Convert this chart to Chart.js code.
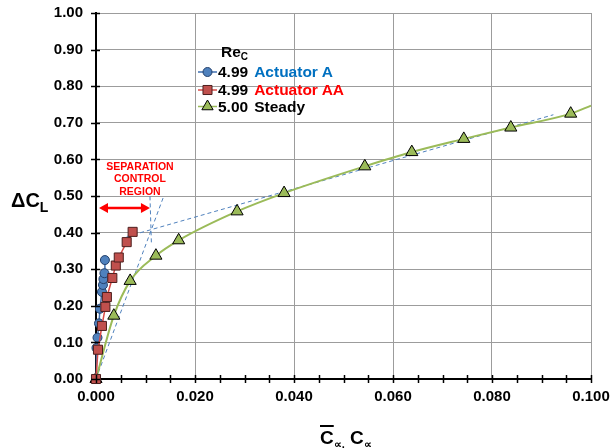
<!DOCTYPE html>
<html>
<head>
<meta charset="utf-8">
<script src="https://cdn.jsdelivr.net/npm/chart.js@4.4.1/dist/chart.umd.min.js"></script>
<style>
    html, body { margin: 0; padding: 0; background: #fff; }
    #wrap { position: relative; width: 612px; height: 448px; font-family: "Liberation Sans", Arial, sans-serif; font-weight: bold; }
    #chart { position: absolute; left: 0; top: 0; }
    .lbl { position: absolute; white-space: nowrap; pointer-events: none; }
    .sub { position: relative; }
</style>
</head>
<body>
<div id="wrap">
    <canvas id="chart" width="612" height="448"></canvas>

    <!-- legend -->
    <div class="lbl" style="left:221px; top:44px; font-size:15.5px; line-height:15px;">Re<span class="sub" style="font-size:10px; top:3px;">C</span></div>
    <div class="lbl" style="left:218px; top:64px; font-size:15.5px; line-height:15px;">4.99<span style="color:#0070c0; margin-left:6px;">Actuator A</span></div>
    <div class="lbl" style="left:218px; top:82px; font-size:15.5px; line-height:15px;">4.99<span style="color:#ff0000; margin-left:6px;">Actuator AA</span></div>
    <div class="lbl" style="left:218px; top:98.5px; font-size:15.5px; line-height:15px;">5.00<span style="margin-left:6px;">Steady</span></div>

    <!-- annotation -->
    <div class="lbl" style="left:100px; top:160px; width:80px; text-align:center; font-size:10.5px; line-height:12.3px; color:#ff0000;">SEPARATION<br>CONTROL<br>REGION</div>

    <!-- axis titles -->
    <div class="lbl" style="left:11px; top:190px; font-size:20px; line-height:20px;">&Delta;C<span class="sub" style="font-size:14px; top:5px;">L</span></div>
    <div class="lbl" style="left:320px; top:428px; font-size:19px; line-height:19px;"><span style="text-decoration:overline; text-decoration-thickness:1.5px;">C</span><span class="sub" style="font-size:11px; top:4px;">&prop;,</span> C<span class="sub" style="font-size:11px; top:4px;">&prop;</span></div>
</div>

<script>
// Actuator A, Re_C 4.99
const xActA = [0, 0.0001, 0.0003, 0.0006, 0.0008, 0.0012, 0.0014, 0.0015, 0.0017, 0.0018];
const yActA = [0, 0.085, 0.113, 0.152, 0.192, 0.238, 0.257, 0.273, 0.289, 0.325];

// Actuator AA, Re_C 4.99
const xActAA = [0, 0.0004, 0.0012, 0.0019, 0.0022, 0.0033, 0.0040, 0.0046, 0.0062, 0.0074];
const yActAA = [0, 0.080, 0.145, 0.197, 0.224, 0.276, 0.310, 0.332, 0.374, 0.402];

// Steady, Re_C 5.00
const xSteady = [0, 0.0036, 0.0069, 0.0121, 0.0167, 0.0285, 0.0380, 0.0543, 0.0638, 0.0743, 0.0838, 0.0959];
const ySteady = [0, 0.173, 0.268, 0.337, 0.379, 0.458, 0.508, 0.581, 0.620, 0.656, 0.687, 0.725];
// where the steady curve leaves the plot on the right
const xSteadyEnd = [0.1];
const ySteadyEnd = [0.747];

// dashed construction lines
const xSteep = [0, 0.0137];
const ySteep = [0, 0.500];
const xMark = [0.0109, 0.0112];
const yMark = [0.499, 0.367];
const xShallow = [0.0062, 0.0924];
const yShallow = [0.389, 0.722];

// separation control region arrow
const xArrow = [0.0006, 0.0109];
const yArrow = [0.467, 0.467];

// ticks
const xTickStep = 0.005;
const xLabelStep = 0.02;
const yTickStep = 0.1;

const BLUE = "#4f81bd";
const RED = "#c0504d";
const GREEN = "#9bbb59";
const GRID = "#9c9c9c";
const FONT = "'Liberation Sans', Arial, sans-serif";

function toPoints(xs, ys) {
    return xs.map((x, i) => ({ x: x, y: ys[i] }));
}

function dashed(xs, ys) {
    return {
        data: toPoints(xs, ys),
        showLine: true,
        borderColor: BLUE,
        borderWidth: 1,
        borderDash: [4, 3],
        pointRadius: 0,
        clip: false
    };
}

const isMajorX = v => Math.abs(v / xLabelStep - Math.round(v / xLabelStep)) < 1e-6;

// keep the plot box where the reference has it
function noPad(s) {
    s.paddingLeft = 0;
    s.paddingRight = 0;
    s.paddingTop = 0;
    s.paddingBottom = 0;
}

// tick marks crossing the axes, the arrow and the legend symbols
const extras = {
    id: "extras",
    afterDraw(chart) {
        const c = chart.ctx;
        const xs = chart.scales.x, ys = chart.scales.y;
        const area = chart.chartArea;

        c.save();
        c.strokeStyle = "#000";
        c.lineWidth = 1.5;
        xs.ticks.forEach(t => {
            const px = Math.round(xs.getPixelForValue(t.value)) + 0.5;
            c.beginPath();
            c.moveTo(px, area.bottom - 4);
            c.lineTo(px, area.bottom + 4);
            c.stroke();
        });
        ys.ticks.forEach(t => {
            const py = Math.round(ys.getPixelForValue(t.value)) + 0.5;
            c.beginPath();
            c.moveTo(area.left - 5, py);
            c.lineTo(area.left + 4, py);
            c.stroke();
        });

        // double arrow
        const ax0 = xs.getPixelForValue(xArrow[0]);
        const ax1 = xs.getPixelForValue(xArrow[1]);
        const ay = ys.getPixelForValue(yArrow[0]);
        c.strokeStyle = "#ff0000";
        c.fillStyle = "#ff0000";
        c.lineWidth = 2.5;
        c.beginPath();
        c.moveTo(ax0 + 6, ay);
        c.lineTo(ax1 - 6, ay);
        c.stroke();
        [[ax0, 1], [ax1, -1]].forEach(([x, d]) => {
            c.beginPath();
            c.moveTo(x, ay);
            c.lineTo(x + d * 9, ay - 5);
            c.lineTo(x + d * 9, ay + 5);
            c.closePath();
            c.fill();
        });

        // legend symbols
        const rows = [
            { y: 72, line: "#3f6fb0", fill: BLUE, edge: "#24406b", style: "circle", r: 4.5 },
            { y: 90, line: "#d84b47", fill: RED, edge: "#4d1f1e", style: "rect", r: 6.4 },
            { y: 106.5, line: GREEN, fill: GREEN, edge: "#000", style: "triangle", r: 6.5 }
        ];
        rows.forEach(r => {
            c.strokeStyle = r.line;
            c.lineWidth = 1.5;
            c.beginPath();
            c.moveTo(198, r.y);
            c.lineTo(217, r.y);
            c.stroke();
            c.fillStyle = r.fill;
            c.strokeStyle = r.edge;
            c.lineWidth = 1;
            Chart.helpers.drawPoint(c, { pointStyle: r.style, radius: r.r, borderWidth: 1 }, 207.5, r.y);
        });
        c.restore();
    }
};

const ctx = document.getElementById("chart").getContext("2d");
new Chart(ctx, {
    type: "scatter",
    data: {
        datasets: [
            {
                label: "Actuator AA",
                data: toPoints(xActAA, yActAA),
                showLine: true,
                borderColor: "#d84b47",
                borderWidth: 1.5,
                pointStyle: "rect",
                pointRadius: 6.4,
                pointBackgroundColor: RED,
                pointBorderColor: "#4d1f1e",
                pointBorderWidth: 1,
                clip: false
            },
            {
                label: "Actuator A",
                data: toPoints(xActA, yActA),
                showLine: true,
                borderColor: "#3f6fb0",
                borderWidth: 1.5,
                pointStyle: "circle",
                pointRadius: 4.5,
                pointBackgroundColor: BLUE,
                pointBorderColor: "#24406b",
                pointBorderWidth: 1,
                clip: false
            },
            {
                label: "Steady",
                data: toPoints(xSteady.concat(xSteadyEnd), ySteady.concat(ySteadyEnd)),
                showLine: true,
                cubicInterpolationMode: "monotone",
                borderColor: GREEN,
                borderWidth: 2,
                pointStyle: "triangle",
                pointRadius: c => (c.dataIndex < xSteady.length ? 7 : 0),
                pointBackgroundColor: GREEN,
                pointBorderColor: "#000",
                pointBorderWidth: 1,
                clip: false
            },
            dashed(xSteep, ySteep),
            dashed(xMark, yMark),
            dashed(xShallow, yShallow)
        ]
    },
    options: {
        responsive: false,
        animation: false,
        events: [],
        layout: { padding: { left: 0, right: 21, top: 13, bottom: 0 } },
        plugins: { legend: { display: false }, tooltip: { enabled: false } },
        scales: {
            x: {
                type: "linear",
                min: 0,
                max: 0.1,
                afterFit: s => { s.height = 69; noPad(s); },
                ticks: {
                    stepSize: xTickStep,
                    autoSkip: false,
                    maxRotation: 0,
                    padding: 9,
                    color: "#000",
                    font: { family: FONT, size: 15, weight: "bold" },
                    callback: v => (isMajorX(v) ? v.toFixed(3) : "")
                },
                grid: {
                    drawTicks: false,
                    lineWidth: 1,
                    color: c => (c.tick && isMajorX(c.tick.value) ? GRID : "rgba(0,0,0,0)")
                },
                border: { color: "#000", width: 2 }
            },
            y: {
                min: 0,
                max: 1,
                afterFit: s => { s.width = 96; noPad(s); },
                ticks: {
                    stepSize: yTickStep,
                    padding: 13,
                    color: "#000",
                    font: { family: FONT, size: 15, weight: "bold" },
                    callback: v => v.toFixed(2)
                },
                grid: { drawTicks: false, lineWidth: 1, color: GRID },
                border: { color: "#000", width: 2 }
            }
        }
    },
    plugins: [extras]
});
</script>
</body>
</html>
